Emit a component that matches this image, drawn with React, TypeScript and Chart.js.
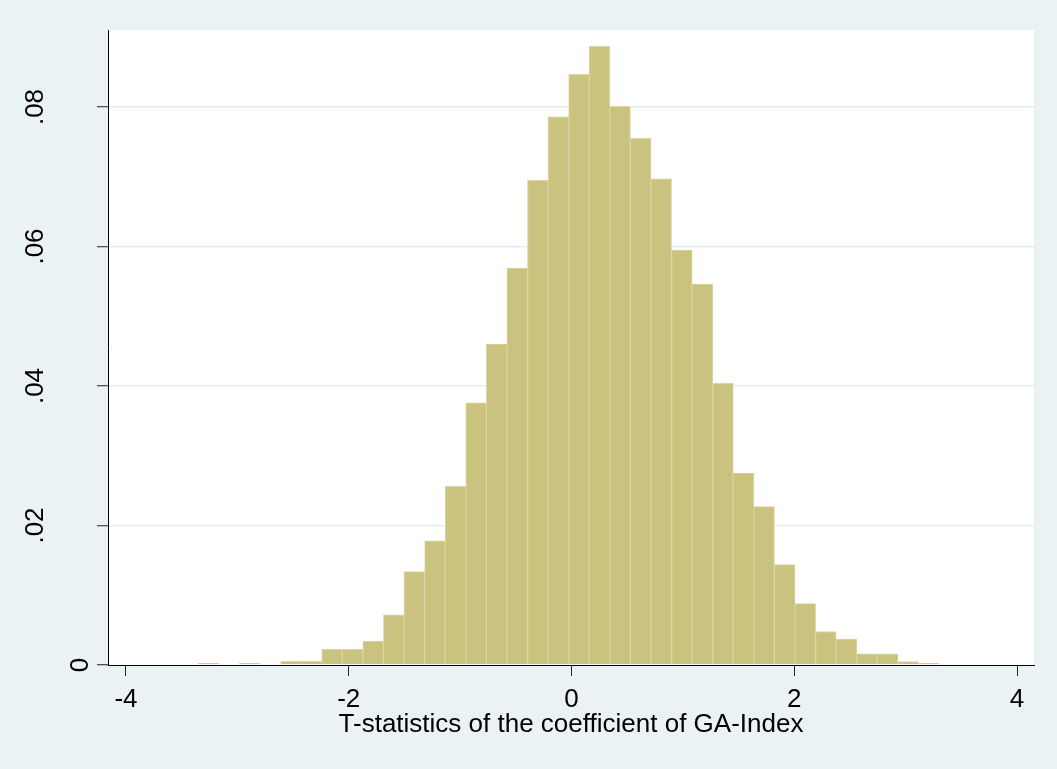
import React, { useEffect, useRef } from "react";
import { Chart, registerables } from "chart.js";

Chart.register(...registerables);

// Histogram bin centres (bin width ~0.1848) and densities
const binCenters = [
  -3.2586, -2.8891, -2.5196, -2.3349, -2.1501, -1.9654, -1.7806, -1.5959,
  -1.4111, -1.2264, -1.0416, -0.8569, -0.6721, -0.4874, -0.3026, -0.1179,
  0.0669, 0.2517, 0.4364, 0.6212, 0.8059, 0.9907, 1.1754, 1.3602, 1.5449,
  1.7297, 1.9144, 2.0992, 2.2839, 2.4687, 2.6534, 2.8382, 3.0229, 3.2077,
];
const densities = [
  0.00024, 0.00024, 0.00052, 0.00052, 0.00225, 0.00225, 0.0034, 0.0072,
  0.0134, 0.0178, 0.0256, 0.0376, 0.046, 0.0569, 0.0695, 0.0786,
  0.0847, 0.0887, 0.0801, 0.0755, 0.0697, 0.0595, 0.0546, 0.0404, 0.0275,
  0.0227, 0.0144, 0.0088, 0.0048, 0.0037, 0.0016, 0.0016, 0.0005, 0.00024,
];
const xTicks = [-4, -2, 0, 2, 4];
const yTicks = [0, 0.02, 0.04, 0.06, 0.08];
const yTickLabels = ["0", ".02", ".04", ".06", ".08"];
const xTitle = "T-statistics of the coefficient of GA-Index";

const FONT = '"Liberation Sans", Arial, Helvetica, sans-serif';
const BG = "#EAF2F3";

export default function App() {
  const ref = useRef<HTMLCanvasElement | null>(null);

  useEffect(() => {
    const canvas = ref.current;
    if (!canvas) return;

    const bgPlugin = {
      id: "bgPlugin",
      beforeDraw(chart: any) {
        const { ctx, chartArea } = chart;
        ctx.save();
        ctx.fillStyle = BG;
        ctx.fillRect(0, 0, chart.width, chart.height);
        ctx.fillStyle = "#FFFFFF";
        ctx.fillRect(
          chartArea.left,
          chartArea.top,
          chartArea.right - chartArea.left,
          chartArea.bottom - chartArea.top
        );
        ctx.restore();
      },
    };

    const yLabelPlugin = {
      id: "yLabelPlugin",
      afterDraw(chart: any) {
        const { ctx } = chart;
        const yScale = chart.scales.y;
        ctx.save();
        ctx.font = `26px ${FONT}`;
        ctx.fillStyle = "#000000";
        ctx.textAlign = "center";
        ctx.textBaseline = "alphabetic";
        yTicks.forEach((v, i) => {
          const label = yTickLabels[i];
          const w = ctx.measureText(label).width;
          const bx = 118.4 - 2.08 * w;
          const py = yScale.getPixelForValue(v);
          ctx.save();
          ctx.translate(bx, py);
          ctx.rotate(-Math.PI / 2);
          ctx.fillText(label, 0, 0);
          ctx.restore();
        });
        ctx.restore();
      },
    };

    const chart = new Chart(canvas, {
      type: "bar",
      data: {
        datasets: [
          {
            data: binCenters.map((x, i) => ({ x, y: densities[i] })),
            backgroundColor: "rgb(202,195,127)",
            borderColor: "rgb(218,212,158)",
            borderWidth: 1,
            barPercentage: 1,
            categoryPercentage: 1,
          },
        ],
      },
      options: {
        animation: false,
        responsive: false,
        maintainAspectRatio: false,
        layout: { padding: { top: 30, right: 23, left: 0, bottom: 0 } },
        plugins: {
          legend: { display: false },
          tooltip: { enabled: false },
          title: { display: false },
        },
        scales: {
          x: {
            type: "linear",
            min: -4.1616,
            max: 4.1526,
            offset: false,
            afterBuildTicks: (scale: any) => {
              scale.ticks = xTicks.map((v) => ({ value: v }));
            },
            afterFit: (scale: any) => {
              scale.height = 104;
            },
            grid: {
              display: true,
              offset: false,
              drawOnChartArea: false,
              drawTicks: true,
              tickLength: 11,
              tickColor: "#222222",
              tickWidth: 1,
            },
            border: { display: true, color: "#000000", width: 1 },
            ticks: {
              autoSkip: false,
              maxRotation: 0,
              minRotation: 0,
              padding: 8,
              color: "#000000",
              font: { family: FONT, size: 26 },
              callback: (v: any) => String(v),
            },
            title: {
              display: true,
              text: xTitle,
              color: "#000000",
              font: { family: FONT, size: 26 },
              padding: { top: 0, bottom: 29 },
            },
          },
          y: {
            type: "linear",
            min: 0,
            max: 0.09104,
            afterBuildTicks: (scale: any) => {
              scale.ticks = yTicks.map((v) => ({ value: v }));
            },
            afterFit: (scale: any) => {
              scale.width = 108;
            },
            grid: {
              display: true,
              drawOnChartArea: true,
              drawTicks: true,
              tickLength: 11,
              lineWidth: 1.5,
              color: (c: any) =>
                c.tick && c.tick.value === 0 ? "rgba(0,0,0,0)" : "#E3EDEF",
              tickColor: "#222222",
              tickWidth: 1,
            },
            border: { display: true, color: "#000000", width: 1 },
            ticks: { display: false },
          },
        },
      },
      plugins: [bgPlugin, yLabelPlugin],
    });

    return () => {
      chart.destroy();
    };
  }, []);

  return (
    <div
      style={{
        position: "fixed",
        left: 0,
        top: 0,
        width: 1057,
        height: 769,
        background: BG,
      }}
    >
      <canvas ref={ref} width={1057} height={769} style={{ display: "block" }} />
    </div>
  );
}
